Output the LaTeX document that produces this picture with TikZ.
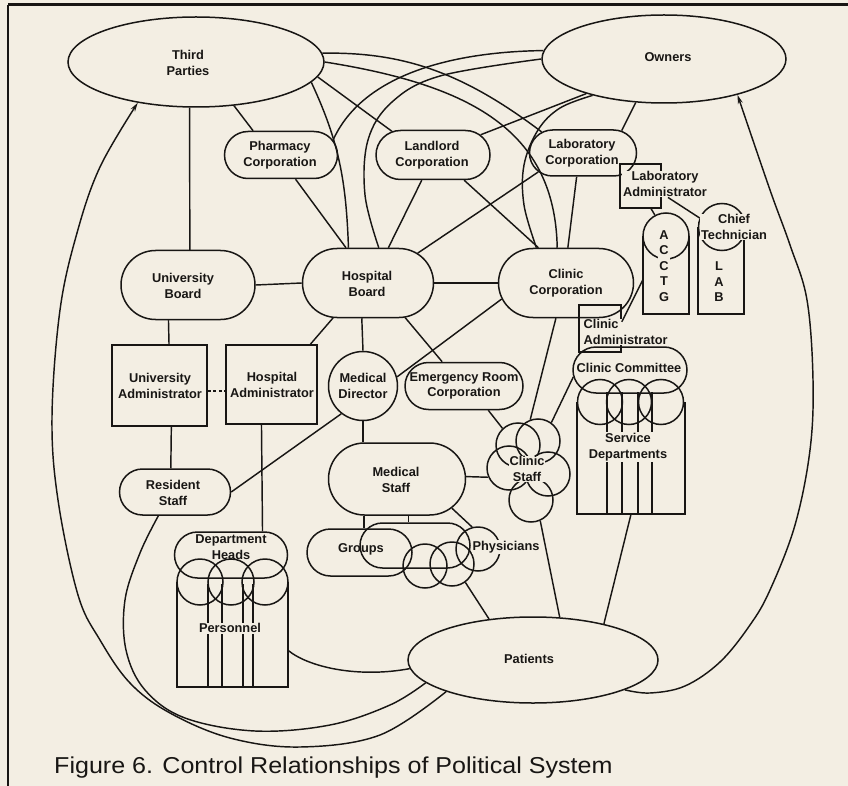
\documentclass[tikz,border=0pt]{standalone}
\usepackage{fontspec}
\setmainfont{Liberation Sans}
\newfontfamily\nf{Liberation Sans}
\usetikzlibrary{shapes.geometric,shapes.misc,arrows.meta}
\definecolor{bg}{RGB}{243,238,227}
\definecolor{ink}{RGB}{24,22,20}
\newcommand{\nsz}{\nf\bfseries\fontsize{12.8}{15.5}\selectfont}
\newcommand{\capsz}{\nf\fontsize{23}{27}\selectfont}
\begin{document}
\begin{tikzpicture}[x=1pt,y=-1pt,
  shp/.style={draw=ink,line width=1.5pt,inner sep=0pt,align=center,font=\nsz,text=ink},
  ell/.style={shp,ellipse},
  pill/.style={shp,rounded rectangle},
  box/.style={shp,rectangle},
  circ/.style={shp,circle},
  frm/.style={inner sep=0pt},
  lbl/.style={font=\nsz,text=ink,align=center,inner sep=0.8pt,fill=bg},
  txt/.style={font=\nsz,text=ink,align=center,inner sep=0pt},
  side/.style={draw=ink,line width=1.5pt},
  con/.style={draw=ink,line width=1.45pt},
  arr/.style={con,-{Stealth[length=9pt,width=5pt]}}]
\useasboundingbox (0,0) rectangle (848,786);
\fill[bg] (0,0) rectangle (848,786);
\draw[ink,line width=2.5pt] (8,786) -- (8,5);
\draw[ink,line width=3pt] (8,5) -- (848,5);

% ---- shapes ----
\node[ell,minimum width=256pt,minimum height=90pt] (TP) at (196,62) {};
\node[ell,minimum width=244pt,minimum height=88pt] (OW) at (664,59) {};
\node[pill,minimum width=113pt,minimum height=47pt] (PH) at (281,155) {};
\node[pill,minimum width=114pt,minimum height=49pt] (LL) at (433,155) {};
\node[pill,minimum width=107pt,minimum height=46pt] (LC) at (583,153) {};
\node[box,minimum width=41pt,minimum height=44pt] (LA) at (640.5,186) {};
\node[circ,minimum size=47pt] (CT) at (722,227) {};
\node[frm,minimum width=46pt,minimum height=87pt] (CTr) at (721,270.5) {};
\node[circ,minimum size=46pt] (AC) at (666,236) {};
\node[frm,minimum width=46pt,minimum height=78pt] (ACr) at (666,275) {};
\node[pill,minimum width=135pt,minimum height=69pt] (CC) at (566,283) {};
\node[pill,minimum width=131pt,minimum height=69pt] (HB) at (368,283) {};
\node[pill,minimum width=134pt,minimum height=69pt] (UB) at (188,285) {};
\node[box,minimum width=95pt,minimum height=81pt] (UA) at (159.5,385.5) {};
\node[box,minimum width=91pt,minimum height=79pt] (HA) at (271.5,384.5) {};
\node[circ,minimum size=69pt] (MD) at (363,386) {};
\node[pill,minimum width=118pt,minimum height=47pt] (ER) at (464,386) {};
\node[pill,minimum width=111pt,minimum height=46pt] (RS) at (175,492) {};
\node[pill,minimum width=137pt,minimum height=72pt] (MS) at (397,479) {};
\node[pill,minimum width=105pt,minimum height=47pt] (GR) at (359.5,552.5) {};
\node[pill,minimum width=110pt,minimum height=45pt] (G2) at (415,545.5) {};
\node[circ,minimum size=44pt] (c1) at (425,566) {};
\node[circ,minimum size=44pt] (c2) at (452,564) {};
\node[circ,minimum size=44pt] (PHc) at (478,549) {};
\node[circ,minimum size=44pt] (cs1) at (538,441) {};
\node[circ,minimum size=44pt] (cs2) at (518,445) {};
\node[circ,minimum size=44pt] (cs3) at (509,468) {};
\node[circ,minimum size=44pt] (cs4) at (548,474) {};
\node[circ,minimum size=44pt] (cs5) at (531,500) {};
\node[box,minimum width=42pt,minimum height=47pt] (CAd) at (600,328.5) {};
\node[pill,minimum width=114pt,minimum height=46pt] (CCm) at (630,370) {};
\node[circ,minimum size=45pt] (sd1) at (600,402) {};
\node[circ,minimum size=45pt] (sd2) at (629,402) {};
\node[circ,minimum size=45pt] (sd3) at (661,402) {};
\node[frm,minimum width=108pt,minimum height=112pt] (SDr) at (631,458) {};
\node[pill,minimum width=113pt,minimum height=46pt] (DH) at (231,555) {};
\node[circ,minimum size=46pt] (dh1) at (200,582) {};
\node[circ,minimum size=46pt] (dh2) at (231,582) {};
\node[circ,minimum size=46pt] (dh3) at (265,582) {};
\node[frm,minimum width=111pt,minimum height=105pt] (PEr) at (232.5,634.5) {};
\node[ell,minimum width=250pt,minimum height=86pt] (PA) at (533,660) {};

% open-topped boxes and inner lines
\draw[side] (CTr.north west) -- (CTr.south west) -- (CTr.south east) -- (CTr.north east);
\draw[side] (ACr.north west) -- (ACr.south west) -- (ACr.south east) -- (ACr.north east);
\draw[side] (SDr.north west) -- (SDr.south west) -- (SDr.south east) -- (SDr.north east);
\draw[side] (PEr.north west) -- (PEr.south west) -- (PEr.south east) -- (PEr.north east);
\foreach \x in {607,622,638,652} \draw[side] (\x,392) -- (\x,514);
\foreach \x in {208,222,243,253} \draw[side] (\x,584) -- (\x,687);

% ---- texts ----
\node[txt] (TPt) at (188,63) {Third\\Parties};
\node[txt] (OWt) at (668,57) {Owners};
\node[txt] (PHt) at (280,155) {Pharmacy\\Corporation};
\node[txt] (LLt) at (432,155) {Landlord\\Corporation};
\node[txt] (LCt) at (582,153) {Laboratory\\Corporation};
\node[lbl] (LAt) at (665,184) {Laboratory\\Administrator};
\node[lbl] (CTt) at (734,227) {Chief\\Technician};
\node[lbl] (ACt) at (664,266) {A\\C\\C\\T\\G};
\node[txt] (LABt) at (719,282) {L\\A\\B};
\node[txt] (CCt) at (566,283) {Clinic\\Corporation};
\node[txt] (HBt) at (367,284) {Hospital\\Board};
\node[txt] (UBt) at (183,286) {University\\Board};
\node[txt] (UAt) at (160,386) {University\\Administrator};
\node[txt] (HAt) at (272,385) {Hospital\\Administrator};
\node[txt] (MDt) at (363,386) {Medical\\Director};
\node[txt] (ERt) at (464,386) {Emergency Room\\Corporation};
\node[txt] (RSt) at (173,493) {Resident\\Staff};
\node[txt] (MSt) at (396,480) {Medical\\Staff};
\node[txt] (GRt) at (361,549) {Groups};
\node[lbl] (PHyt) at (506,547) {Physicians};
\node[lbl] (CSt) at (527,469) {Clinic\\Staff};
\node[lbl,anchor=west,align=left,inner sep=0.5pt] (CAdt) at (583,332) {Clinic\\Administrator};
\node[txt] (CCmt) at (629,368) {Clinic Committee};
\node[lbl] (SDt) at (628,447) {Service\\Departments};
\node[txt] (DHt) at (231,547) {Department\\Heads};
\node[lbl] (PEt) at (230,628) {Personnel};
\node[txt] (PAt) at (529,659) {Patients};

% ---- connectors ----
\draw[con] (TP.262) -- (UB.87);
\draw[con] (TP.-49) -- (PH.139);
\draw[con] (TP.-10) to[out=-65,in=92] (HB.119);
\draw[con] (TP.-7) -- (LL.150);
\draw[con] (TP.4) .. controls (400,52) and (460,70) .. (LC.153);
\draw[con] (TP.0) .. controls (470,85) and (555,130) .. (CC.104);
\draw[con] (PH.16) .. controls (360,80) and (440,52) .. (OW.176);
\draw[con] plot[smooth,tension=0.6] coordinates {(HB.73) (365,195) (368,140) (392,102) (440,76) (OW.180)};
\draw[con] (OW.204) -- (LL.23);
\draw[con] plot[smooth,tension=0.6] coordinates {(OW.207) (560,108) (538,130) (524,165) (524,205) (CC.130)};
\draw[con] (OW.237) -- (LC.30);
\draw[con] (UB.east) -- (HB.west);
\draw[con] (HB.east) -- (CC.west);
\draw[con] (PH.301) -- (HB.122);
\draw[con] (LL.246) -- (HB.60);
\draw[con] (LL.321) -- (CC.128);
\draw[con] (LC.203) -- (HB.31);
\draw[con] (LC.255) -- (CC.87);
\draw[con] (LA.295) -- (AC.118);
\draw[con] ([xshift=3pt]LAt.south) -- (CT.158);
\draw[con] ([yshift=-5pt]ACr.west) -- (CAd.17);
\draw[con] (HB.225) -- (HA.46);
\draw[con] (HB.260) -- (MD.north);
\draw[con] (HB.317) -- (ER.132);
\draw[con] (CC.194) -- (MD.15);
\draw[con] (ER.315) -- (cs2.133);
\draw[con] (CC.254) -- (cs1.110);
\draw[con] (CCm.187) -- (cs1.54);
\draw[con] (MD.south) -- (MD.south |- MS.north);
\draw[con] (MD.232) -- (RS.east);
\draw[con] (MS.2) -- (cs3.204);
\draw[con] (MS.228) -- (MS.228 |- GR.north);
\draw[con] (MS.287) -- (MS.287 |- G2.north);
\draw[con] (MS.332) -- (PHc.105);
\draw[con] (cs5.-66) -- (PA.58);
\draw[con] (SDr.south) -- (PA.27);
\draw[con] (c2.-54) -- (PA.137);
\draw[con] (PEr.-16) .. controls (310,668) and (360,678) .. (PA.184);
\draw[con] (HA.256) -- (DH.37);
\draw[con] (UA.286) -- (RS.100);
\draw[con] (UB.241) -- (UA.77);
\draw[con,dash pattern=on 3pt off 2.5pt] ([yshift=-5.5pt]UA.east) -- ([yshift=-5.5pt]UA.east -| HA.west);
\draw[con] plot[smooth,tension=0.6] coordinates {(RS.235) (140,553) (125,600) (126,650) (145,690) (185,718) (255,731) (330,725) (390,705) (PA.192)};
\draw[arr] plot[smooth,tension=0.6] coordinates {(PA.200) (380,735) (300,747) (230,738) (170,713) (130,683) (100,640) (78,595) (58,500) (52,417) (60,310) (77,233) (100,167) (TP.215)};
\draw[arr] plot[smooth,tension=0.6] coordinates {(PA.-18) (650,693) (685,686) (720,662) (750,625) (770,590) (795,525) (810,450) (813,380) (807,300) (790,245) (770,190) (OW.334)};

% ---- caption ----
\node[anchor=base west,inner sep=0pt,text=ink,font=\capsz] (cap) at (54,773) {\scalebox{1.09}[1]{Figure 6. Control Relationships of Political System}};
\end{tikzpicture}
\end{document}
